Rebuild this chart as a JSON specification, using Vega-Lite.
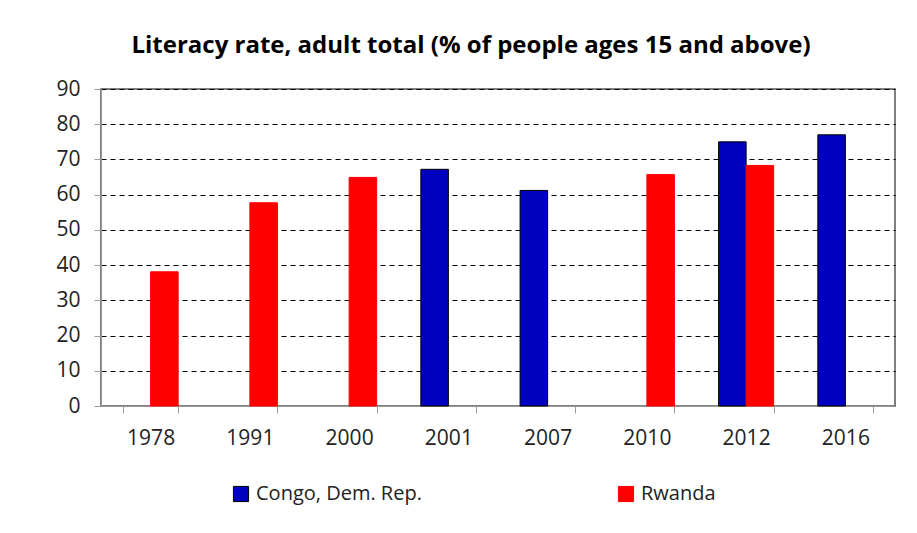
{
  "$schema": "https://vega.github.io/schema/vega-lite/v6.json",
  "width": 794,
  "height": 317,
  "autosize": {"type": "none"},
  "padding": {"left": 101, "top": 89, "right": 22, "bottom": 127},
  "background": "white",
  "title": {
    "text": "Literacy rate, adult total (% of people ages 15 and above)",
    "font": "Open Sans",
    "fontSize": 24,
    "fontWeight": "bold",
    "color": "#000000",
    "anchor": "middle",
    "dx": -27,
    "offset": 20
  },
  "data": {
    "values": [
      {"year": "1978", "country": "Rwanda", "value": 38.1},
      {"year": "1991", "country": "Rwanda", "value": 57.7},
      {"year": "2000", "country": "Rwanda", "value": 64.9},
      {"year": "2001", "country": "Congo, Dem. Rep.", "value": 67.2},
      {"year": "2007", "country": "Congo, Dem. Rep.", "value": 61.2},
      {"year": "2010", "country": "Rwanda", "value": 65.7},
      {"year": "2012", "country": "Congo, Dem. Rep.", "value": 75.0},
      {"year": "2012", "country": "Rwanda", "value": 68.3},
      {"year": "2016", "country": "Congo, Dem. Rep.", "value": 77.0}
    ]
  },
  "mark": {"type": "bar", "strokeWidth": 1},
  "encoding": {
    "x": {
      "field": "year",
      "type": "nominal",
      "scale": {"paddingInner": 0.445, "paddingOuter": 0.2225},
      "axis": {
        "title": null,
        "labelAngle": 0,
        "tickBand": "extent",
        "tickSize": 7,
        "tickColor": "#999999",
        "domainColor": "#999999",
        "labelPadding": 14,
        "labelFont": "Open Sans",
        "labelFontSize": 21,
        "labelColor": "#222222",
        "grid": false
      }
    },
    "xOffset": {
      "field": "country",
      "type": "nominal",
      "scale": {"domain": ["Congo, Dem. Rep.", "Rwanda"], "paddingInner": 0, "paddingOuter": 0}
    },
    "y": {
      "field": "value",
      "type": "quantitative",
      "scale": {"domain": [0, 90]},
      "axis": {
        "title": null,
        "values": [0, 10, 20, 30, 40, 50, 60, 70, 80, 90],
        "tickSize": 7,
        "tickColor": "#999999",
        "domainColor": "#999999",
        "labelPadding": 14,
        "labelFont": "Open Sans",
        "labelFontSize": 21,
        "labelColor": "#222222",
        "grid": true,
        "gridColor": "#000000",
        "gridDash": [5, 4],
        "gridWidth": 1
      }
    },
    "color": {
      "field": "country",
      "type": "nominal",
      "scale": {"domain": ["Congo, Dem. Rep.", "Rwanda"], "range": ["#0000C0", "#FF0000"]},
      "legend": {
        "title": null,
        "orient": "none",
        "legendX": 130,
        "legendY": 395,
        "direction": "horizontal",
        "columns": 2,
        "columnPadding": 194,
        "symbolType": "square",
        "symbolSize": 230,
        "symbolStrokeWidth": 1,
        "labelFont": "Open Sans",
        "labelFontSize": 20,
        "labelLimit": 400,
        "labelColor": "#222222",
        "labelOffset": 5
      }
    },
    "stroke": {
      "field": "country",
      "type": "nominal",
      "scale": {"domain": ["Congo, Dem. Rep.", "Rwanda"], "range": ["#000000", "#FF0000"]},
      "legend": null
    }
  },
  "config": {
    "view": {"stroke": "#555555", "strokeWidth": 1.5}
  }
}
